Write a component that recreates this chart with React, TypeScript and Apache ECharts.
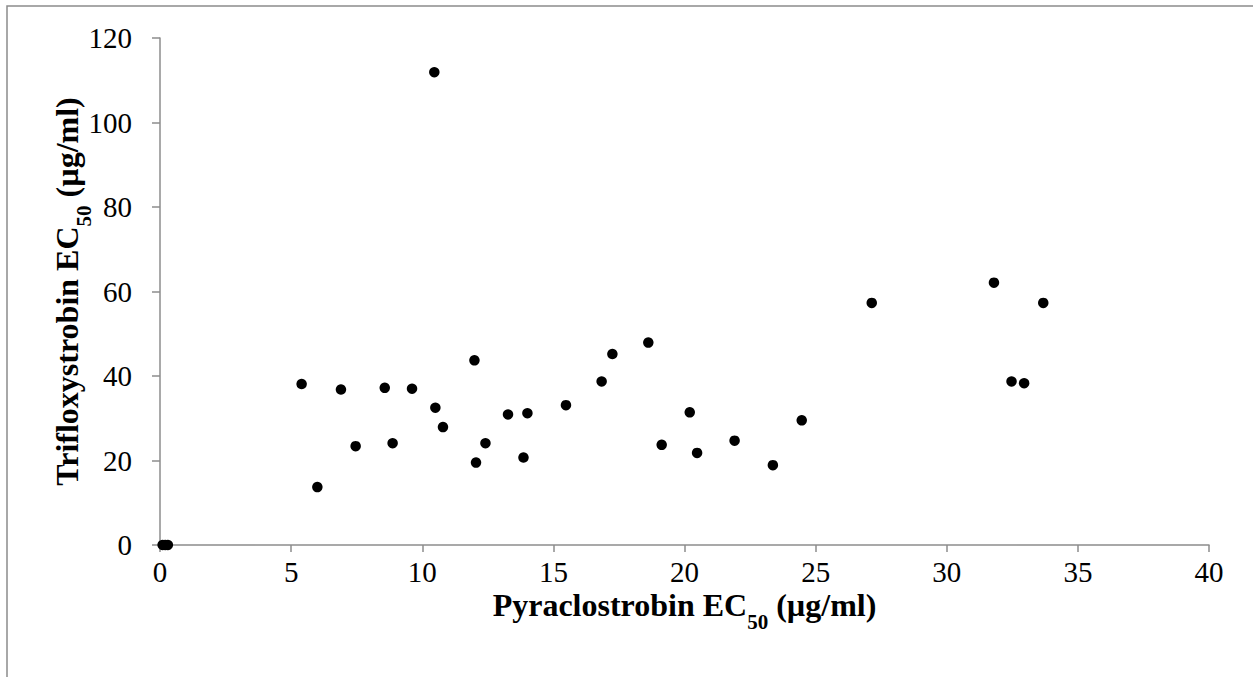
import React, { useEffect, useRef } from "react";
import * as echarts from "echarts";

const pyraclostrobin: number[] = [
  0.1, 0.2, 0.3,
  5.4, 6.0, 6.9, 7.46, 8.57, 8.87, 9.61, 10.5, 10.79, 11.99, 12.05, 12.41, 13.27,
  14.01, 13.86, 15.48, 16.84, 17.25, 18.62, 20.2, 19.13, 20.48, 21.91, 23.37, 24.47,
  27.14, 31.8, 33.68, 32.47, 32.95, 10.46,
];
const trifloxystrobin: number[] = [
  0, 0, 0,
  38.1, 13.7, 36.8, 23.4, 37.2, 24.1, 37.0, 32.5, 27.9, 43.7, 19.5, 24.1, 30.9,
  31.2, 20.7, 33.1, 38.7, 45.2, 47.9, 31.4, 23.7, 21.8, 24.7, 18.9, 29.5,
  57.3, 62.1, 57.3, 38.7, 38.3, 111.9,
];

const FONT = "'Liberation Serif', 'Times New Roman', serif";

export default function App() {
  const ref = useRef<HTMLDivElement>(null);
  useEffect(() => {
    if (!ref.current) return;
    const chart = echarts.init(ref.current, undefined, { renderer: "svg" });
    const data = pyraclostrobin.map((x, i) => [x, trifloxystrobin[i]]);
    const rich = {
      a: { fontFamily: FONT, fontSize: 32, lineHeight: 30, fontWeight: "bold", color: "#000" },
      s: { fontFamily: FONT, fontSize: 21, lineHeight: 20, fontWeight: "bold", color: "#000", verticalAlign: "bottom", padding: [0, 0, -12, 0] },
    };
    chart.setOption({
      animation: false,
      backgroundColor: "#ffffff",
      textStyle: { fontFamily: FONT },
      graphic: [
        {
          type: "rect",
          shape: { x: 7, y: 6, width: 1300, height: 700 },
          style: { fill: "none", stroke: "#8c8c8c", lineWidth: 1.5 },
          silent: true,
        },
      ],
      grid: { left: 160, right: 44, top: 38, bottom: 132, containLabel: false },
      xAxis: {
        type: "value",
        min: 0,
        max: 40,
        interval: 5,
        splitLine: { show: false },
        axisLine: { show: true, onZero: false, lineStyle: { color: "#8c8c8c", width: 1.5 } },
        axisTick: { show: true, length: 7, inside: false, lineStyle: { color: "#8c8c8c", width: 1.5 } },
        axisLabel: { margin: 12, color: "#000", fontFamily: FONT, fontSize: 29, lineHeight: 29 },
        name: "{a|Pyraclostrobin EC}{s|50}{a| (µg/ml)}",
        nameLocation: "middle",
        nameGap: 45,
        nameMoveOverlap: false,
        nameTextStyle: { fontFamily: FONT, rich },
      },
      yAxis: {
        type: "value",
        min: 0,
        max: 120,
        interval: 20,
        splitLine: { show: false },
        axisLine: { show: true, onZero: false, lineStyle: { color: "#8c8c8c", width: 1.5 } },
        axisTick: { show: true, length: 8, inside: false, lineStyle: { color: "#8c8c8c", width: 1.5 } },
        axisLabel: { margin: 28, color: "#000", fontFamily: FONT, fontSize: 29, lineHeight: 29 },
        name: "{a|Trifloxystrobin EC}{s|50}{a| (µg/ml)}",
        nameLocation: "middle",
        nameGap: 78,
        nameRotate: 90,
        nameMoveOverlap: false,
        nameTextStyle: { fontFamily: FONT, rich },
      },
      series: [
        {
          type: "scatter",
          data,
          symbol: "circle",
          symbolSize: 10.5,
          itemStyle: { color: "#000", opacity: 1 },
          clip: false,
        },
      ],
    });
    return () => chart.dispose();
  }, []);
  return (
    <div
      ref={ref}
      style={{ position: "fixed", left: 0, top: 0, width: 1253, height: 677 }}
    />
  );
}
